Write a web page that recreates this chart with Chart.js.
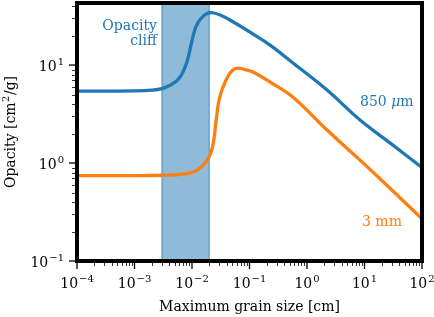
<!DOCTYPE html>
<html>
<head>
<meta charset="utf-8">
<script src="https://cdn.jsdelivr.net/npm/chart.js@4.4.0/dist/chart.umd.min.js"></script>
<style>
html, body { margin: 0; padding: 0; background: #fff; }
canvas { display: block; }
</style>
</head>
<body>
<canvas id="opacityChart" width="434" height="317"></canvas>
<script>
// Maximum grain size [cm] and opacity [cm^2/g].
const grainSize850 = [1e-4, 3e-4, 1e-3, 2e-3, 3e-3, 4.1e-3, 5.0e-3, 5.8e-3, 6.6e-3, 7.4e-3, 8.2e-3, 8.9e-3, 9.6e-3, 0.0105, 0.0115, 0.0129, 0.0148, 0.0174, 0.0204, 0.024, 0.0309, 0.0457, 0.102, 0.228, 0.571, 2.23, 8.36, 30, 100];
const opacity850 = [5.43, 5.43, 5.45, 5.55, 5.75, 6.2, 6.65, 7.2, 8.0, 9.2, 10.9, 13.0, 16.0, 20.0, 24.0, 27.5, 30.5, 33.1, 34.2, 34.0, 32.4, 28.8, 21.7, 16.0, 10.5, 5.56, 2.75, 1.55, 0.9];

const grainSize3mm = [1e-4, 1e-3, 3e-3, 7.08e-3, 0.01122, 0.0138, 0.0166, 0.0191, 0.0214, 0.0234, 0.0251, 0.0269, 0.0288, 0.0316, 0.0355, 0.0407, 0.0501, 0.0631, 0.0832, 0.115, 0.228, 0.571, 2.23, 8.36, 18.6, 100];
const opacity3mm = [0.745, 0.745, 0.75, 0.77, 0.82, 0.89, 0.99, 1.11, 1.29, 1.58, 2.14, 3.02, 4.07, 5.13, 6.17, 7.36, 8.81, 9.29, 9.0, 8.5, 6.7, 4.7, 2.17, 1.07, 0.69, 0.27];

// Opacity cliff band [cm].
const cliffBand = [3e-3, 2e-2];

// Tick exponents for the log axes.
const xTickExponents = [-4, -3, -2, -1, 0, 1, 2];
const yTickExponents = [-1, 0, 1];

const blue = '#1f77b4';
const orange = '#ff7f0e';
const serif = '"DejaVu Serif", serif';

function toPoints(xs, ys) {
    return xs.map((x, i) => ({ x: x, y: ys[i] }));
}

// Draw "10" with a raised exponent.
function drawPower(ctx, exp, x, baseline, align) {
    const base = '10';
    const sup = exp < 0 ? '\u2212' + (-exp) : String(exp);
    ctx.font = '14px ' + serif;
    const wb = ctx.measureText(base).width;
    ctx.font = '10px ' + serif;
    const ws = ctx.measureText(sup).width;
    const total = wb + 1 + ws;
    const left = align === 'center' ? x - total / 2 : x - total;
    ctx.textAlign = 'left';
    ctx.textBaseline = 'alphabetic';
    ctx.font = '14px ' + serif;
    ctx.fillText(base, left, baseline);
    ctx.font = '10px ' + serif;
    ctx.fillText(sup, left + wb + 1, baseline - 6);
}

const cliffPlugin = {
    id: 'cliffBand',
    beforeDatasetsDraw(chart) {
        const ctx = chart.ctx;
        const area = chart.chartArea;
        const x0 = chart.scales.x.getPixelForValue(cliffBand[0]);
        const x1 = chart.scales.x.getPixelForValue(cliffBand[1]);
        ctx.save();
        ctx.fillStyle = 'rgba(31, 119, 180, 0.5)';
        ctx.fillRect(x0, area.top, x1 - x0, area.bottom - area.top);
        ctx.strokeStyle = 'rgba(31, 119, 180, 0.5)';
        ctx.lineWidth = 1.5;
        ctx.strokeRect(x0, area.top, x1 - x0, area.bottom - area.top);
        ctx.restore();
    }
};

const axesPlugin = {
    id: 'axesFrame',
    afterDraw(chart) {
        const ctx = chart.ctx;
        const area = chart.chartArea;
        const xs = chart.scales.x;
        const ys = chart.scales.y;
        ctx.save();
        ctx.fillStyle = '#000';
        ctx.strokeStyle = '#000';

        // minor and major ticks
        ctx.lineWidth = 0.8;
        for (let n = -4; n < 2; n++) {
            for (let k = 2; k < 10; k++) {
                const px = Math.round(xs.getPixelForValue(k * Math.pow(10, n))) + 0.5;
                ctx.beginPath();
                ctx.moveTo(px, area.bottom);
                ctx.lineTo(px, area.bottom + 5);
                ctx.stroke();
            }
        }
        for (let n = -1; n < 2; n++) {
            for (let k = 2; k < 10; k++) {
                const v = k * Math.pow(10, n);
                if (v > ys.max) continue;
                const py = Math.round(ys.getPixelForValue(v)) + 0.5;
                ctx.beginPath();
                ctx.moveTo(area.left, py);
                ctx.lineTo(area.left - 5, py);
                ctx.stroke();
            }
        }
        ctx.lineWidth = 1.3;
        xTickExponents.forEach(e => {
            const px = xs.getPixelForValue(Math.pow(10, e));
            ctx.beginPath();
            ctx.moveTo(px, area.bottom);
            ctx.lineTo(px, area.bottom + 8);
            ctx.stroke();
            drawPower(ctx, e, px, 288, 'center');
        });
        yTickExponents.forEach(e => {
            const py = ys.getPixelForValue(Math.pow(10, e));
            ctx.beginPath();
            ctx.moveTo(area.left, py);
            ctx.lineTo(area.left - 8, py);
            ctx.stroke();
            drawPower(ctx, e, 64, py + 6, 'right');
        });

        // frame
        ctx.lineWidth = 4;
        ctx.strokeRect(area.left, area.top, area.right - area.left, area.bottom - area.top);

        // axis titles
        ctx.font = '14px ' + serif;
        ctx.textAlign = 'center';
        ctx.textBaseline = 'alphabetic';
        ctx.fillText('Maximum grain size [cm]', (area.left + area.right) / 2, 311);

        ctx.save();
        ctx.translate(15, (area.top + area.bottom) / 2);
        ctx.rotate(-Math.PI / 2);
        const t1 = 'Opacity [cm', t2 = '2', t3 = '/g]';
        ctx.font = '14px ' + serif;
        const w1 = ctx.measureText(t1).width, w3 = ctx.measureText(t3).width;
        ctx.font = '10px ' + serif;
        const w2 = ctx.measureText(t2).width;
        let left = -(w1 + w2 + w3 + 1) / 2;
        ctx.textAlign = 'left';
        ctx.font = '14px ' + serif;
        ctx.fillText(t1, left, 0);
        ctx.font = '10px ' + serif;
        ctx.fillText(t2, left + w1 + 0.5, -6);
        ctx.font = '14px ' + serif;
        ctx.fillText(t3, left + w1 + w2 + 1, 0);
        ctx.restore();

        // annotations
        ctx.fillStyle = blue;
        ctx.font = '14px ' + serif;
        ctx.textAlign = 'right';
        ctx.fillText('Opacity', 157, 30);
        ctx.fillText('cliff', 157, 45);

        ctx.textAlign = 'left';
        let x = 360;
        ctx.fillText('850 ', x, 106);
        x += ctx.measureText('850 ').width;
        ctx.font = 'italic 14px ' + serif;
        ctx.fillText('\u03bc', x, 106);
        x += ctx.measureText('\u03bc').width;
        ctx.font = '14px ' + serif;
        ctx.fillText('m', x, 106);

        ctx.fillStyle = orange;
        ctx.fillText('3 mm', 362, 226);
        ctx.restore();
    }
};

const chart = document.getElementById('opacityChart');
new Chart(chart, {
    type: 'line',
    data: {
        datasets: [{
            label: '850 \u03bcm',
            data: toPoints(grainSize850, opacity850),
            borderColor: blue,
            borderWidth: 3.3,
            pointRadius: 0,
            tension: 0.4,
            fill: false
        }, {
            label: '3 mm',
            data: toPoints(grainSize3mm, opacity3mm),
            borderColor: orange,
            borderWidth: 3.3,
            pointRadius: 0,
            tension: 0.4,
            fill: false
        }]
    },
    options: {
        responsive: false,
        animation: false,
        devicePixelRatio: 1,
        layout: {
            padding: { left: 77, right: 12, top: 3, bottom: 56 }
        },
        scales: {
            x: {
                type: 'logarithmic',
                min: 1e-4,
                max: 1e2,
                display: false
            },
            y: {
                type: 'logarithmic',
                min: 0.1,
                max: 43,
                display: false
            }
        },
        plugins: {
            legend: { display: false },
            tooltip: { enabled: false }
        }
    },
    plugins: [cliffPlugin, axesPlugin]
});
</script>
</body>
</html>
